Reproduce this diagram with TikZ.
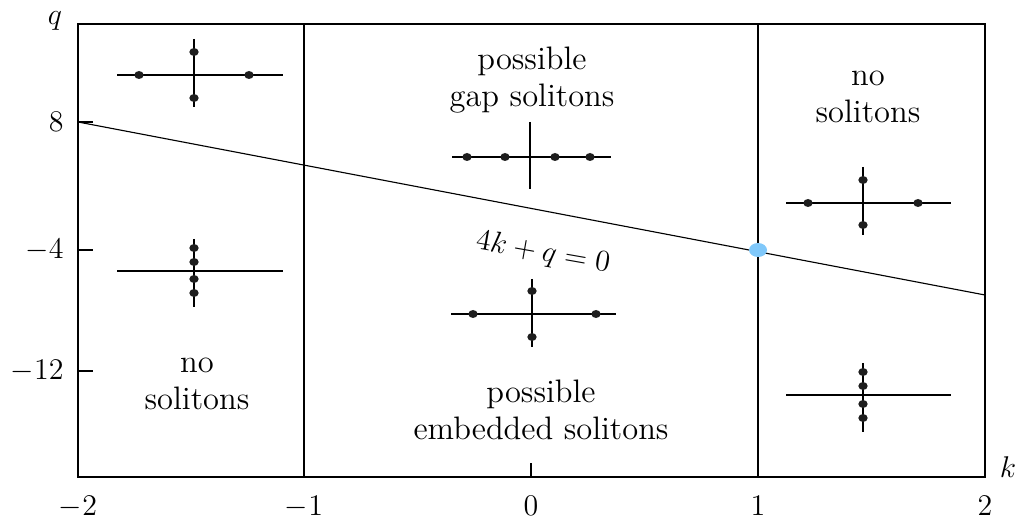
\documentclass[tikz,border=0pt]{standalone}
\usetikzlibrary{positioning}

\definecolor{rootgray}{RGB}{30,30,30}
\definecolor{pointblue}{RGB}{128,200,250}

\begin{document}
\begin{tikzpicture}[
  x=0.4pt, y=-0.4pt,
  frame/.style={draw, line width=0.5pt},
  axisline/.style={line width=0.45pt},
  root/.style={fill=rootgray},
  region/.style={font=\fontsize{13}{14.8}\selectfont, inner sep=0pt, align=center},
  ticklab/.style={font=\fontsize{13}{15}\selectfont, inner sep=0pt}
]
\useasboundingbox (0,0) rectangle (1024,524);

% plane and the lines k=-1, k=1, 4k+q=0
\draw[frame] (78,24) rectangle (985,477);
\draw[axisline] (304,24) -- (304,477);
\draw[axisline] (758,24) -- (758,477);
\draw[axisline] (78,122) -- (985,295);
\fill[pointblue] (758,250) ellipse [x radius=9, y radius=7];

% ticks
\draw[axisline] (78,122) -- (93,122) (78,250) -- (93,250) (78,371) -- (93,371);
\draw[axisline] (531,477) -- (531,463);

\node[ticklab, anchor=east] (q8)   at (64,122) {$8$};
\node[ticklab, anchor=east] (q4)   at (64,250) {$-4$};
\node[ticklab, anchor=east] (q12)  at (64,371) {$-12$};
\node[ticklab, anchor=base] (km2)  at (78,515)  {$-2$};
\node[ticklab, anchor=base] (km1)  at (304,515) {$-1$};
\node[ticklab, anchor=base] (k0)   at (531,515) {$0$};
\node[ticklab, anchor=base] (k1)   at (758,515) {$1$};
\node[ticklab, anchor=base] (k2)   at (985,515) {$2$};
\node[ticklab, anchor=base] (qlab) at (55,25)   {$q$};
\node[ticklab, anchor=base] (klab) at (1008,477) {$k$};

% region labels
\node[region] (gap)     at (532,80)  {possible\\gap solitons};
\node[region] (noright) at (868,97)  {no\\solitons};
\node[region] (noleft)  at (197,384) {no\\solitons};
\node[region] (embed)   at (541,410) {possible\\embedded solitons};
\node[region, rotate=-10] (border) at (543,253) {$4k+q=0$};

% spectra in each region
\draw[axisline] (117,75) -- (283,75) (194,39) -- (194,107);
\draw[axisline] (117,271) -- (283,271) (194,239) -- (194,307);
\draw[axisline] (452,157) -- (611,157) (530,122) -- (530,189);
\draw[axisline] (451,314) -- (616,314) (532,279) -- (532,347);
\draw[axisline] (786,203) -- (951,203) (863,167) -- (863,235);
\draw[axisline] (786,395) -- (951,395) (863,363) -- (863,432);

\foreach \x/\y in {139/75, 249/75, 194/52, 194/98,
                   194/248, 194/262, 194/279, 194/293,
                   467/157, 505/157, 555/157, 590/157,
                   473/314, 596/314, 532/291, 532/337,
                   808/203, 918/203, 863/180, 863/225,
                   863/372, 863/386, 863/404, 863/418}
  \fill[root] (\x,\y) ellipse [x radius=4.7, y radius=4];

\end{tikzpicture}
\end{document}
